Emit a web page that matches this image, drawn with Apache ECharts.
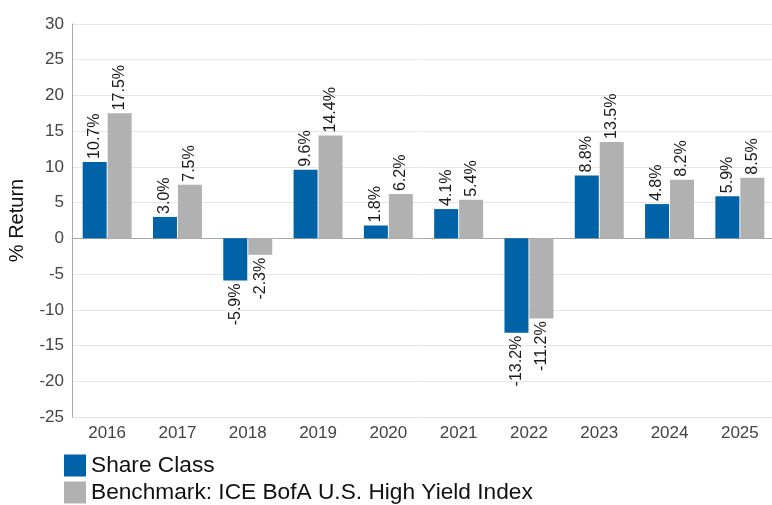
<!DOCTYPE html>
<html>
<head>
<meta charset="utf-8">
<script src="https://cdn.jsdelivr.net/npm/echarts@6/dist/echarts.min.js"></script>
<style>
  html, body { margin: 0; padding: 0; background: #fff; }
  #chart { width: 772px; height: 505px; }
</style>
</head>
<body>
<div id="chart"></div>
<script>
// data
const years = ['2016', '2017', '2018', '2019', '2020', '2021', '2022', '2023', '2024', '2025'];
const shareClass = [10.7, 3.0, -5.9, 9.6, 1.8, 4.1, -13.2, 8.8, 4.8, 5.9];
const benchmark = [17.5, 7.5, -2.3, 14.4, 6.2, 5.4, -11.2, 13.5, 8.2, 8.5];
const seriesNames = ['Share Class', 'Benchmark: ICE BofA U.S. High Yield Index'];

const font = 'Liberation Sans, Arial, sans-serif';

function barLabel(params) {
  return params.value.toFixed(1) + '%';
}

function makeSeries(name, values, color) {
  return {
    type: 'bar',
    name: name,
    barWidth: 24,
    barGap: '4%',
    itemStyle: { color: color },
    data: values.map(v => ({
      value: v,
      label: v >= 0
        ? { position: 'top', rotate: 90, align: 'left', verticalAlign: 'middle', distance: 3 }
        : { position: 'bottom', rotate: 90, align: 'right', verticalAlign: 'middle', distance: 3 }
    })),
    label: {
      show: true,
      formatter: barLabel,
      fontFamily: font,
      fontSize: 16,
      color: '#1a1a1a'
    }
  };
}

// one legend per row, stacked under the plot
function legendRow(name, top) {
  return {
    orient: 'vertical',
    left: 64,
    top: top,
    padding: 0,
    itemWidth: 22,
    itemHeight: 22,
    icon: 'rect',
    textStyle: { fontFamily: font, fontSize: 22.7, color: '#111' },
    data: [name]
  };
}

const chart = echarts.init(document.getElementById('chart'));

chart.setOption({
  animation: false,
  grid: { left: 72, top: 24, width: 703, height: 393, containLabel: false, outerBoundsMode: 'none' },
  legend: [legendRow(seriesNames[0], 454), legendRow(seriesNames[1], 481)],
  xAxis: {
    type: 'category',
    data: years,
    axisLine: { lineStyle: { color: '#aaa', width: 1 } },
    axisTick: { show: false },
    axisLabel: { fontFamily: font, fontSize: 17, color: '#444', margin: 8 }
  },
  yAxis: {
    type: 'value',
    min: -25,
    max: 30,
    interval: 5,
    name: '% Return',
    nameLocation: 'middle',
    nameGap: 45,
    nameTextStyle: { fontFamily: font, fontSize: 20, color: '#111' },
    axisLine: { show: true, lineStyle: { color: '#aaa', width: 1 } },
    axisTick: { show: false },
    splitLine: { lineStyle: { color: '#e6e6e6', width: 1 } },
    axisLabel: { fontFamily: font, fontSize: 17, color: '#444', margin: 8 }
  },
  series: [
    makeSeries(seriesNames[0], shareClass, '#0063a8'),
    makeSeries(seriesNames[1], benchmark, '#b1b1b1')
  ]
});
</script>
</body>
</html>
